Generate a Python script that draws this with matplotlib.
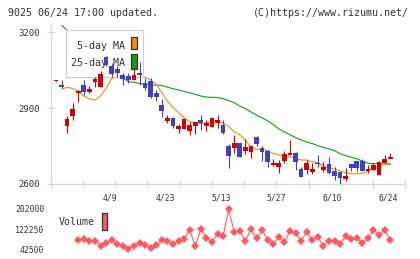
import numpy as np
import matplotlib.pyplot as plt
from matplotlib.patches import Rectangle
from matplotlib.transforms import blended_transform_factory

# daily candles (index 0 .. 60)
opens = [3006, 2992, 2831, 2870, 2960, 2992, 2964, 3005, 2985, 3104,
         3068, 3055, 3033, 3028, 3012, 3038, 2999, 3008, 2961, 2912,
         2850, 2862, 2819, 2818, 2810, 2831, 2853, 2831, 2827, 2842,
         2833, 2750, 2744, 2762, 2729, 2728, 2787, 2744, 2732, 2675,
         2668, 2692, 2715, 2724, 2658, 2655, 2646, 2685, 2655, 2679,
         2652, 2646, 2621, 2680, 2691, 2691, 2651, 2655, 2636, 2684, 2700]
highs = [3007, 3011, 2870, 2919, 2970, 3011, 2988, 3024, 3047, 3108,
         3078, 3068, 3040, 3040, 3064, 3084, 3019, 3019, 2970, 2935,
         2873, 2866, 2838, 2857, 2846, 2846, 2872, 2853, 2866, 2873,
         2853, 2760, 2794, 2763, 2778, 2751, 2788, 2752, 2733, 2699,
         2695, 2731, 2774, 2725, 2668, 2695, 2682, 2715, 2688, 2705,
         2668, 2647, 2662, 2680, 2692, 2700, 2675, 2684, 2692, 2715, 2722]
lows = [3005, 2979, 2803, 2853, 2926, 2952, 2959, 2985, 2983, 3066,
        3022, 3024, 2992, 2998, 3010, 2992, 2972, 2939, 2930, 2866,
        2840, 2820, 2803, 2817, 2792, 2798, 2814, 2811, 2826, 2820,
        2799, 2662, 2722, 2705, 2719, 2704, 2750, 2692, 2669, 2671,
        2642, 2682, 2713, 2655, 2628, 2640, 2640, 2666, 2649, 2640,
        2614, 2600, 2613, 2653, 2649, 2652, 2645, 2654, 2635, 2683, 2699]
closes = [3006, 2985, 2858, 2897, 2968, 2965, 2976, 3015, 3035, 3071,
          3034, 3040, 3014, 3012, 3032, 3030, 2978, 2945, 2943, 2890,
          2862, 2830, 2831, 2856, 2834, 2845, 2840, 2841, 2860, 2853,
          2800, 2712, 2761, 2708, 2748, 2750, 2758, 2728, 2688, 2684,
          2684, 2719, 2724, 2688, 2629, 2684, 2660, 2678, 2668, 2642,
          2633, 2625, 2632, 2665, 2665, 2653, 2658, 2675, 2687, 2698, 2706]

ma5 = [np.nan, 2976, 2982, 2978, 2968, 2948, 2937, 2932, 2948, 2978,
       3018, 3022, 3022, 3024, 3024, 3024, 3022, 3011, 2995, 2961,
       2928, 2903, 2882, 2862, 2846, 2843, 2840, 2840, 2849, 2849,
       2842, 2827, 2807, 2794, 2774, 2745, 2737, 2738, 2732, 2721,
       2715, 2711, 2708, 2702, 2695, 2695, 2688, 2684, 2671, 2664,
       2660, 2651, 2645, 2640, 2640, 2642, 2650, 2662, 2672, 2678, 2682]
ma25 = [3251, 3229, 3207, 3188, 3168, 3148, 3128, 3108, 3088, 3068,
        3050, 3035, 3020, 3005, 3002, 2998, 2995, 2992, 2991, 2990,
        2983, 2977, 2972, 2966, 2961, 2955, 2948, 2944, 2943, 2942,
        2937, 2930, 2922, 2908, 2898, 2885, 2872, 2862, 2850, 2835,
        2818, 2806, 2795, 2784, 2774, 2766, 2760, 2752, 2745, 2739,
        2732, 2720, 2712, 2706, 2700, 2690, 2682, 2681, 2680, 2679, 2678]

volume = [np.nan, np.nan, np.nan, np.nan, 79200, 83200, 75300, 76400, 56700, 66200,
          79200, 63400, 55500, 42500, 55500, 66200, 59500, 48800, 59500, 79200,
          75300, 62200, 76400, 83200, 118700, 55500, 121500, 85900, 72500, 101700,
          93800, 201600, 109600, 114700, 75300, 121500, 85900, 118700, 79200, 62200,
          92200, 70100, 116000, 105700, 75300, 112000, 79200, 91000, 56700, 76400,
          76400, 62200, 95000, 83200, 87100, 66200, 85900, 118700, 99000, 118700, 79200]

date_pos = [10, 20, 30, 40, 50, 60]
date_labels = ['4/9', '4/23', '5/13', '5/27', '6/10', '6/24']
price_ticks = [2600, 2900, 3200]
volume_ticks = [42500, 122250, 202000]

UP = '#d40000'
DOWN = '#4040c0'
ORANGE = '#f08c10'
GREEN = '#10a010'
VOLC = '#ff5a5f'
GRID = '#d8d8d8'
TXT = '#333333'
MONO = 'DejaVu Sans Mono'

W, H = 420, 259
fig = plt.figure(figsize=(W / 100, H / 100), dpi=100)

def box(left, top, right, bottom):
    return [left / W, 1 - bottom / H, (right - left) / W, (bottom - top) / H]

xlim = (-0.95, 62.71)
ax = fig.add_axes(box(50.7, 25, 405.3, 184))
ax.set_xlim(*xlim)
ax.set_ylim(2600, 3229)

x = np.arange(len(closes))
o = np.array(opens); c = np.array(closes)
h = np.array(highs); l = np.array(lows)
up = c >= o
cols = np.where(up, UP, DOWN)

ax.plot(x, ma25, color=GREEN, lw=0.8, zorder=1)
ax.plot(x, ma5, color=ORANGE, lw=0.8, zorder=1)

# legend box drawn under the candles
trp = ax.transAxes
def ax_px(px, py):
    return ((px - 50.7) / (405.3 - 50.7), (184 - py) / (184 - 25))
lx0, ly0 = ax_px(65.7, 77)
lx1, ly1 = ax_px(143.3, 30)
ax.add_patch(Rectangle((lx0, ly0), lx1 - lx0, ly1 - ly0, transform=trp,
                       facecolor='white', edgecolor='#cccccc', lw=0.8, zorder=2))
for label, col, ty, s0, s1 in [('5-day MA', ORANGE, 46, 37, 49.3),
                                ('25-day MA', GREEN, 62.7, 54.3, 69.3)]:
    tx, tyy = ax_px(125, ty)
    ax.text(tx, tyy, label, transform=trp, ha='right', va='center',
            fontsize=7.2, family=MONO, color=TXT, zorder=3)
    sx0, sy0 = ax_px(131.3, s1)
    sx1, sy1 = ax_px(137.3, s0)
    ax.add_patch(Rectangle((sx0, sy0), sx1 - sx0, sy1 - sy0, transform=trp,
                           facecolor=col, edgecolor='#333333', lw=0.9, zorder=3))

ax.vlines(x, l, h, colors=cols, lw=0.8, zorder=4)
body_h = np.maximum(np.abs(c - o), 4)
ax.bar(x, body_h, bottom=np.minimum(o, c), width=0.85, color=cols,
       lw=0, zorder=5)

for sp in ['top', 'right']:
    ax.spines[sp].set_visible(False)
for sp in ['left', 'bottom']:
    ax.spines[sp].set_color(GRID)
    ax.spines[sp].set_linewidth(0.9)
ax.set_yticks(price_ticks)
ax.set_yticklabels([str(v) for v in price_ticks], family=MONO, fontsize=6.5, color=TXT)
ax.set_xticks(np.linspace(xlim[0], xlim[1], 12))
ax.set_xticklabels([])
ax.tick_params(axis='both', direction='inout', length=5.8, width=0.9, color=GRID)
ax.tick_params(axis='y', pad=4.8)

tb = blended_transform_factory(ax.transData, fig.transFigure)
for p, lab in zip(date_pos, date_labels):
    ax.text(p - 0.4, 1 - 198.3 / H, lab, transform=tb, ha='center', va='center',
            fontsize=5.8, family=MONO, color=TXT)

# volume panel
vx = fig.add_axes(box(50.7, 209, 405.3, 249.3))
vx.set_xlim(*xlim)
vx.set_ylim(42500, 202000)
vx.plot(x, volume, color=VOLC, lw=0.8, marker='D', markersize=4.2,
        markeredgewidth=0, clip_on=False)
for sp in vx.spines.values():
    sp.set_visible(False)
vx.set_xticks([])
vx.set_yticks(volume_ticks)
vx.set_yticklabels([str(v) for v in volume_ticks], family=MONO, fontsize=5.9, color=TXT)
vx.tick_params(axis='y', length=0, pad=4.6)
vx.patch.set_alpha(0)

fig.text(58.7 / W, 1 - 222 / H, 'Volume', ha='left', va='center',
         fontsize=7.1, family=MONO, color=TXT)
fig.patches.append(Rectangle((101.5 / W, 1 - 230 / H), 6 / W, 17 / H,
                             transform=fig.transFigure, facecolor=VOLC,
                             edgecolor='#333333', lw=0.9))

fig.text(8 / W, 1 - 13.3 / H, '9025 06/24 17:00 updated.', ha='left', va='center',
         fontsize=7.2, family=MONO, color=TXT)
fig.text(409 / W, 1 - 13.3 / H, '(C)https://www.rizumu.net/', ha='right', va='center',
         fontsize=7.2, family=MONO, color=TXT)

fig.savefig('out.png', dpi=100)
